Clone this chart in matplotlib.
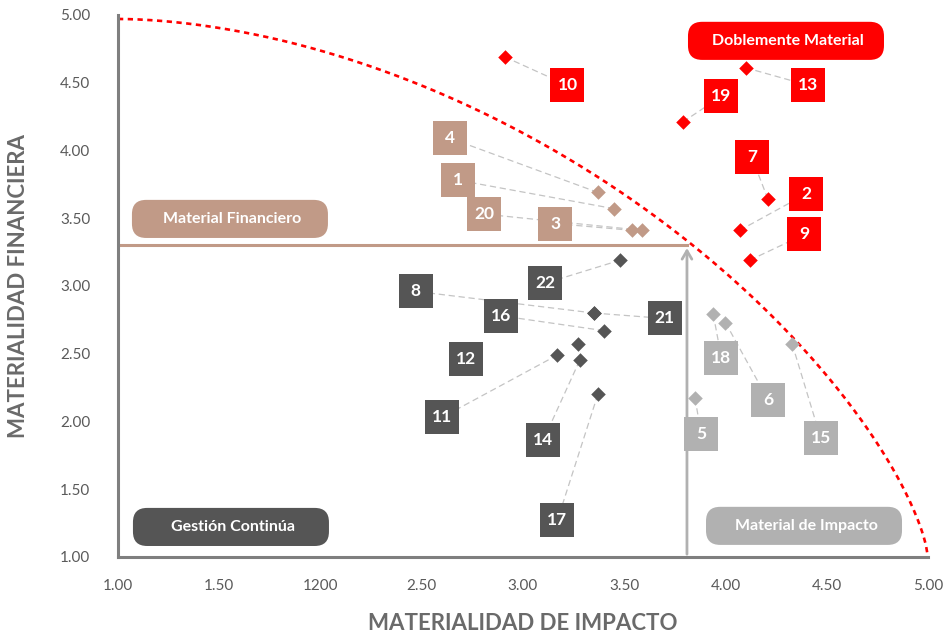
import numpy as np
import matplotlib
matplotlib.use('Agg')
import matplotlib.pyplot as plt
from matplotlib.patches import FancyBboxPatch

plt.rcParams['font.family'] = ['Lato', 'DejaVu Sans']

# temas materiales: id, impacto (x), financiera (y), posicion de la etiqueta
ids_rojo = ['10', '13', '19', '7', '2', '9']
x_rojo = [2.91, 4.10, 3.79, 4.21, 4.07, 4.12]
y_rojo = [4.69, 4.61, 4.21, 3.64, 3.41, 3.19]
lx_rojo = [3.22, 4.41, 3.98, 4.13, 4.40, 4.39]
ly_rojo = [4.48, 4.48, 4.40, 3.95, 3.68, 3.38]

ids_fin = ['4', '1', '20', '3']
x_fin = [3.37, 3.45, 3.59, 3.54]
y_fin = [3.69, 3.57, 3.41, 3.41]
lx_fin = [2.64, 2.68, 2.81, 3.16]
ly_fin = [4.09, 3.78, 3.53, 3.46]

ids_gest = ['22', '8', '21', '16', '12', '11', '14', '17']
x_gest = [3.48, 3.35, 3.35, 3.40, 3.27, 3.17, 3.28, 3.37]
y_gest = [3.19, 2.80, 2.80, 2.67, 2.57, 2.49, 2.45, 2.20]
lx_gest = [3.11, 2.47, 3.70, 2.89, 2.72, 2.60, 3.10, 3.17]
ly_gest = [3.02, 2.96, 2.76, 2.78, 2.46, 2.03, 1.86, 1.27]
linea_gest = [True, True, True, True, False, True, True, True]

ids_imp = ['18', '6', '5', '15']
x_imp = [3.94, 4.00, 3.85, 4.33]
y_imp = [2.79, 2.73, 2.17, 2.57]
lx_imp = [3.98, 4.21, 3.88, 4.47]
ly_imp = [2.47, 2.16, 1.91, 1.88]

xticks = [1.0, 1.5, 2.0, 2.5, 3.0, 3.5, 4.0, 4.5, 5.0]
xticklabels = ['1.00', '1.50', '1200', '2.50', '3.00', '3.50', '4.00', '4.50', '5.00']
yticks = [1.0, 1.5, 2.0, 2.5, 3.0, 3.5, 4.0, 4.5, 5.0]

umbral_x = 3.81
umbral_y = 3.30

ROJO = '#FF0000'
MARRON = '#C19A87'
OSCURO = '#555555'
CLARO = '#B1B1B1'
GRIS_EJE = '#7F7F7F'

fig = plt.figure(figsize=(9.46, 6.34), dpi=100)
ax = fig.add_axes([0.1247, 0.1215, 0.8562, 0.855])
ax.set_xlim(1, 5)
ax.set_ylim(1, 5)

for s in ['top', 'right']:
    ax.spines[s].set_visible(False)
for s in ['left', 'bottom']:
    ax.spines[s].set_color(GRIS_EJE)
    ax.spines[s].set_linewidth(2.2)
    ax.spines[s].set_zorder(6)

ax.set_xticks(xticks)
ax.set_xticklabels(xticklabels)
ax.set_yticks(yticks)
ax.set_yticklabels(['%.2f' % v for v in yticks])
ax.tick_params(length=0, labelsize=11, labelcolor='#5A5A5A')
ax.tick_params(axis='x', pad=16)
ax.tick_params(axis='y', pad=20)

ax.set_xlabel('MATERIALIDAD DE IMPACTO', fontsize=16, fontweight='bold',
              color='#6A6A6A', labelpad=14)
ax.set_ylabel('MATERIALIDAD FINANCIERA', fontsize=16, fontweight='bold',
              color='#6A6A6A', labelpad=22)

# curva de materialidad (frontera)
t = np.linspace(0, 1, 400)
cx = 1 + 4 * t
cy = 1 + 3.97 * (1 - t ** 1.8) ** (1 / 1.42)
ax.plot(cx, cy, color=ROJO, lw=1.9, ls=(0, (2.0, 1.7)), zorder=2, clip_on=False)

# umbrales
ax.plot([1, umbral_x], [umbral_y, umbral_y], color=MARRON, lw=2.2, zorder=3)
ax.annotate('', xy=(umbral_x, umbral_y), xytext=(umbral_x, 1.0),
            arrowprops=dict(arrowstyle='->,head_length=0.6,head_width=0.35',
                            color=CLARO, lw=2.0), zorder=3)


def grupo(ids, xs, ys, lxs, lys, color, lineas=None):
    for i in range(len(ids)):
        if lineas is None or lineas[i]:
            ax.plot([xs[i], lxs[i]], [ys[i], lys[i]], color='#C4C4C4', lw=0.9,
                    ls=(0, (5, 3)), zorder=3)
    ax.scatter(xs, ys, marker='D', s=55, color=color, zorder=5, linewidths=0)
    ax.scatter(lxs, lys, marker='s', s=600, color=color, zorder=7, linewidths=0)
    for i in range(len(ids)):
        ax.text(lxs[i], lys[i], ids[i], color='white', fontsize=12.5,
                fontweight='bold', ha='center', va='center', zorder=8)


grupo(ids_rojo, x_rojo, y_rojo, lx_rojo, ly_rojo, ROJO)
grupo(ids_fin, x_fin, y_fin, lx_fin, ly_fin, MARRON)
grupo(ids_gest, x_gest, y_gest, lx_gest, ly_gest, OSCURO, linea_gest)
grupo(ids_imp, x_imp, y_imp, lx_imp, ly_imp, CLARO)

# etiquetas de cuadrante
cuadrantes = [
    ('Material Financiero', 1.069, 3.354, MARRON),
    ('Doblemente Material', 3.815, 4.668, ROJO),
    ('Gestión Continúa', 1.074, 1.081, OSCURO),
    ('Material de Impacto', 3.904, 1.089, CLARO),
]
ancho, alto = 0.968, 0.281
for texto, x0, y0, col in cuadrantes:
    caja = FancyBboxPatch((x0, y0), ancho, alto,
                          boxstyle='round,pad=0,rounding_size=0.07',
                          mutation_aspect=1.5, fc=col, ec='none',
                          zorder=8, clip_on=False)
    ax.add_patch(caja)
    ax.text(x0 + ancho / 2 + 0.01, y0 + alto / 2, texto, color='white',
            fontsize=11.5, fontweight='bold', ha='center', va='center', zorder=9)

fig.savefig('out.png', dpi=100)
